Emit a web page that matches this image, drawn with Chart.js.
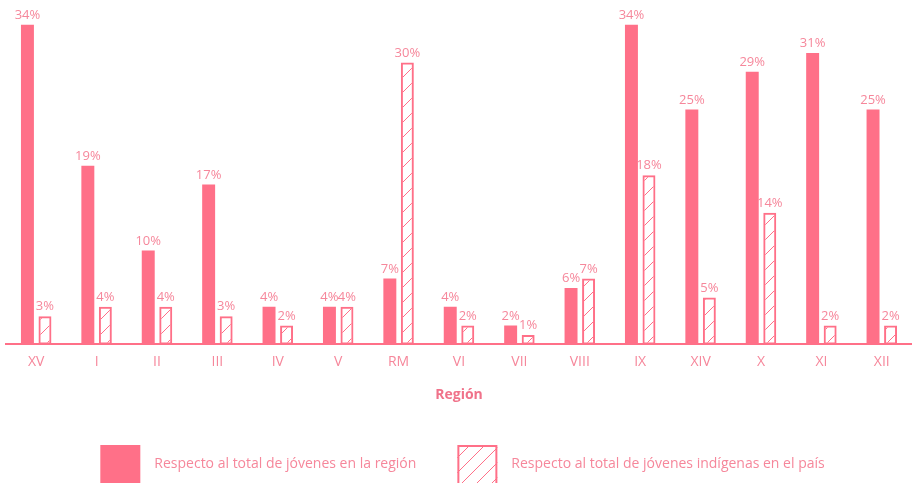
<!DOCTYPE html>
<html>
<head>
<meta charset="utf-8">
<script src="https://cdn.jsdelivr.net/npm/chart.js@4"></script>
<style>
  html, body { margin: 0; padding: 0; background: #fff; }
  #wrap { width: 912px; height: 483px; position: relative; }
</style>
</head>
<body>
<div id="wrap"><canvas id="regChart"></canvas></div>
<script>
// ---- Datos por región ----
const regiones   = ['XV', 'I', 'II', 'III', 'IV', 'V', 'RM', 'VI', 'VII', 'VIII', 'IX', 'XIV', 'X', 'XI', 'XII'];
const pctRegion  = [34, 19, 10, 17, 4, 4, 7, 4, 2, 6, 34, 25, 29, 31, 25];
const pctPais    = [3, 4, 4, 3, 2, 4, 30, 2, 1, 7, 18, 5, 14, 2, 2];
const nombreSeries = ['Respecto al total de jóvenes en la región', 'Respecto al total de jóvenes indígenas en el país'];

const ROSA   = '#ff7088';
const TEXTO  = '#f6879b';
const FUENTE = "'Open Sans', 'Noto Sans', sans-serif";

// ---- Trama diagonal para la segunda serie ----
function hatch(color, n) {
  const c = document.createElement('canvas');
  c.width = n; c.height = n;
  const g = c.getContext('2d');
  g.strokeStyle = color;
  g.lineWidth = 1;
  g.beginPath();
  g.moveTo(0, n); g.lineTo(n, 0);
  g.moveTo(-2, 2); g.lineTo(2, -2);
  g.moveTo(n - 2, n + 2); g.lineTo(n + 2, n - 2);
  g.stroke();
  return g.createPattern(c, 'repeat');
}
const trama = hatch(ROSA, 15);

// ---- Etiquetas de porcentaje sobre cada barra ----
const etiquetas = {
  id: 'etiquetas',
  afterDatasetsDraw(chart) {
    const ctx = chart.ctx;
    ctx.save();
    ctx.font = '13px ' + FUENTE;
    ctx.fillStyle = TEXTO;
    ctx.textAlign = 'center';
    ctx.textBaseline = 'bottom';
    chart.data.datasets.forEach((ds, i) => {
      chart.getDatasetMeta(i).data.forEach((bar, j) => {
        ctx.fillText(ds.data[j] + '%', bar.x, bar.y - 3);
      });
    });
    ctx.restore();
  }
};

// ---- Leyenda inferior con cuadros grandes ----
const leyenda = {
  id: 'leyenda',
  afterDraw(chart) {
    const ctx = chart.ctx;
    const box = 40, gapTxt = 14, gapItem = 41;
    ctx.save();
    ctx.font = '14px ' + FUENTE;
    const anchos = nombreSeries.map(t => ctx.measureText(t).width);
    const total = anchos.reduce((a, w) => a + box + gapTxt + w, 0) + gapItem;
    let x = (chart.width - total) / 2 + 6.5;
    const y = chart.height - 38;
    chart.data.datasets.forEach((ds, i) => {
      if (i === 0) {
        ctx.fillStyle = ROSA;
        ctx.fillRect(x, y, box, box);
      } else {
        ctx.fillStyle = trama;
        ctx.fillRect(x, y, box, box);
        ctx.strokeStyle = ROSA;
        ctx.lineWidth = 2;
        ctx.strokeRect(x + 1, y + 1, box - 2, box - 2);
      }
      ctx.fillStyle = TEXTO;
      ctx.textAlign = 'left';
      ctx.textBaseline = 'middle';
      ctx.fillText(nombreSeries[i], x + box + gapTxt, y + 19);
      x += box + gapTxt + anchos[i] + gapItem;
    });
    ctx.restore();
  }
};

new Chart(document.getElementById('regChart').getContext('2d'), {
  type: 'bar',
  data: {
    labels: regiones,
    datasets: [
      {
        label: nombreSeries[0], data: pctRegion,
        backgroundColor: ROSA, borderWidth: 0,
        categoryPercentage: 0.58, barPercentage: 0.74
      },
      {
        label: nombreSeries[1], data: pctPais,
        backgroundColor: trama, borderColor: ROSA, borderWidth: 2, borderSkipped: false,
        categoryPercentage: 0.58, barPercentage: 0.74
      }
    ]
  },
  options: {
    responsive: true,
    maintainAspectRatio: false,
    animation: false,
    layout: { padding: { left: 6, right: 0, top: 6, bottom: 80 } },
    plugins: { legend: { display: false }, tooltip: { enabled: false } },
    scales: {
      x: {
        grid: { display: false, drawTicks: false },
        border: { display: true, color: ROSA, width: 2 },
        ticks: { color: TEXTO, padding: 9, font: { family: FUENTE, size: 14 } },
        title: {
          display: true, text: 'Región', color: '#f0728a',
          font: { family: FUENTE, size: 14, weight: 'bold' },
          padding: { top: 7, bottom: 0 }
        }
      },
      y: {
        display: false, min: 0, max: 36
      }
    }
  },
  plugins: [etiquetas, leyenda]
});
</script>
</body>
</html>
